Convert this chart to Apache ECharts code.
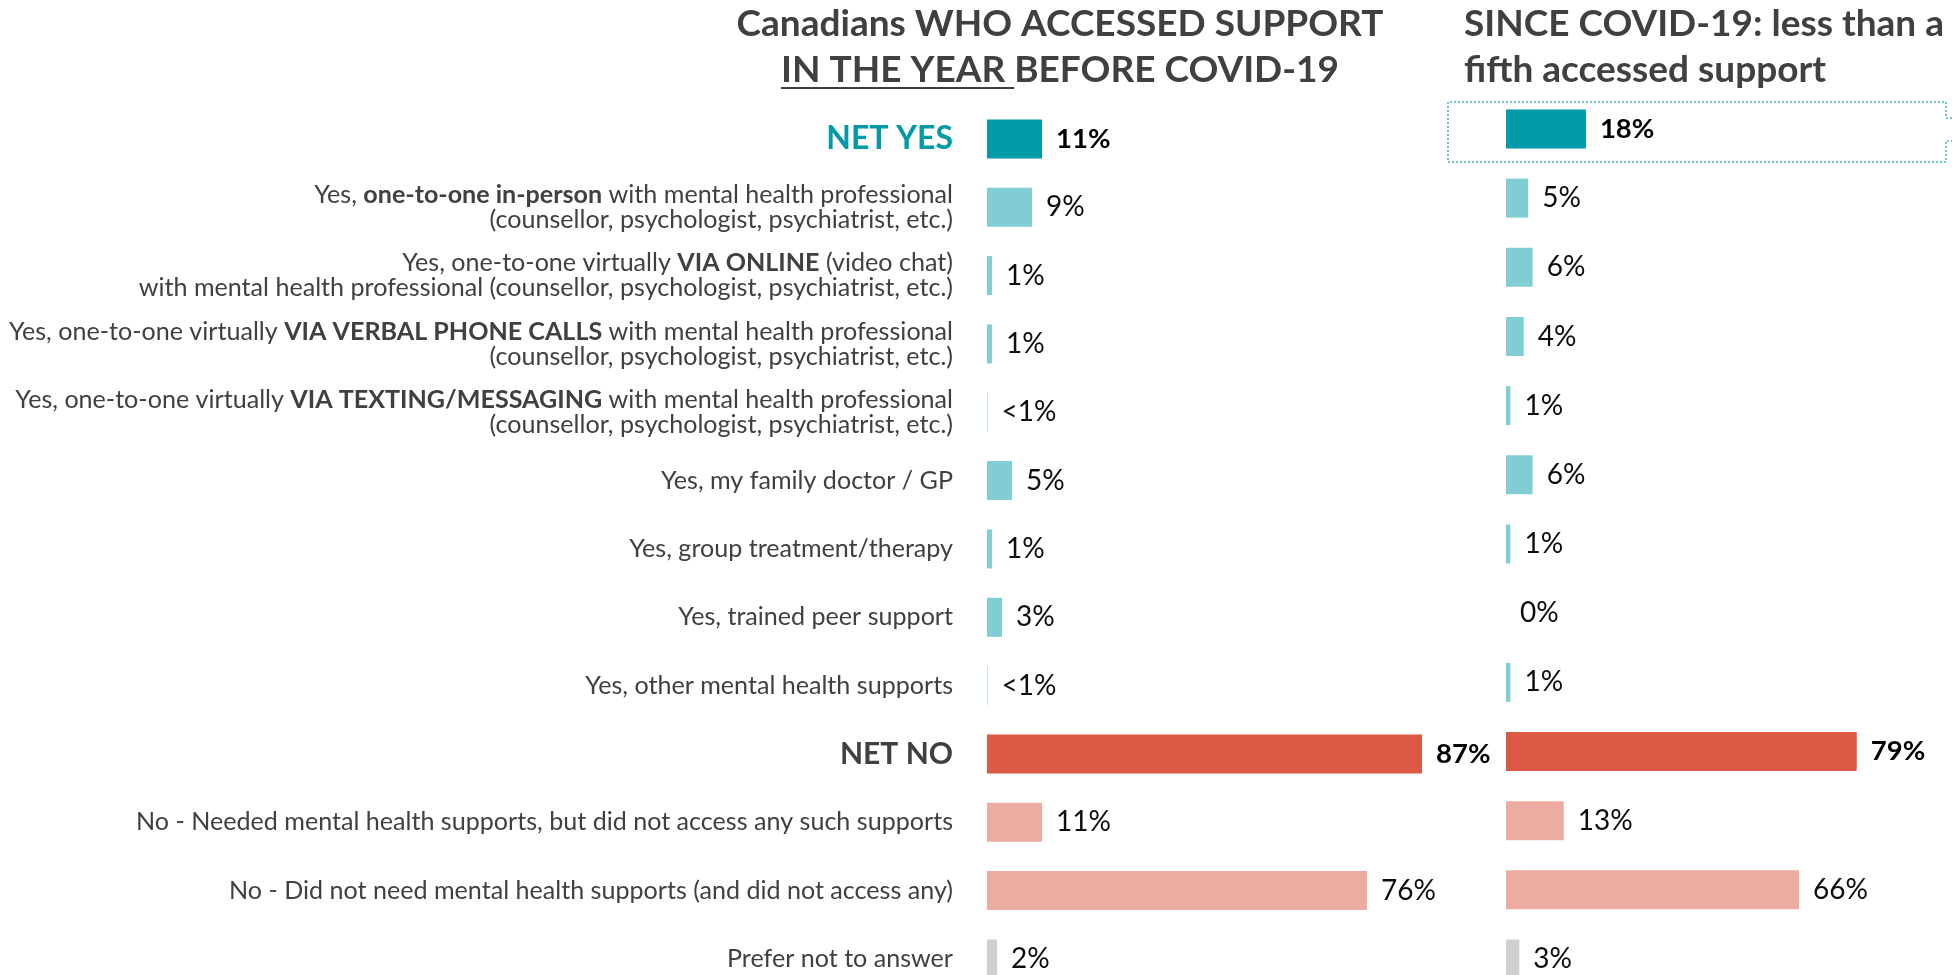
<!DOCTYPE html>
<html>
<head>
<meta charset="utf-8">
<script src="https://cdn.jsdelivr.net/npm/echarts@6/dist/echarts.min.js"></script>
<style>
  html, body { margin: 0; padding: 0; background: #fff; overflow: hidden; }
  #chart { width: 1952px; height: 1010px; }
</style>
</head>
<body>
<div id="chart"></div>
<script>
// Response rows, top to bottom
const categories = [
  'NET YES',
  'Yes, one-to-one in-person with mental health professional\n(counsellor, psychologist, psychiatrist, etc.)',
  'Yes, one-to-one virtually VIA ONLINE (video chat)\nwith mental health professional (counsellor, psychologist, psychiatrist, etc.)',
  'Yes, one-to-one virtually VIA VERBAL PHONE CALLS with mental health professional\n(counsellor, psychologist, psychiatrist, etc.)',
  'Yes, one-to-one virtually VIA TEXTING/MESSAGING with mental health professional\n(counsellor, psychologist, psychiatrist, etc.)',
  'Yes, my family doctor / GP',
  'Yes, group treatment/therapy',
  'Yes, trained peer support',
  'Yes, other mental health supports',
  'NET NO',
  'No - Needed mental health supports, but did not access any such supports',
  'No - Did not need mental health supports (and did not access any)',
  'Prefer not to answer'
];
// Phrases set in bold inside the row labels
const boldPhrases = ['one-to-one in-person', 'VIA ONLINE', 'VIA VERBAL PHONE CALLS', 'VIA TEXTING/MESSAGING'];
// Row group used to pick the bar colour
const rowGroups = ['netYes', 'yes', 'yes', 'yes', 'yes', 'yes', 'yes', 'yes', 'yes', 'netNo', 'no', 'no', 'prefer'];

// Percent of Canadians, year before COVID-19 (values under 1% shown as "<1%")
const beforeCovid = [11, 9, 1, 1, 0.1, 5, 1, 3, 0.1, 87, 11, 76, 2];
// Percent of Canadians, since COVID-19
const sinceCovid = [18, 5, 6, 4, 1, 6, 1, 0, 1, 79, 13, 66, 3];

const titleBefore = ['Canadians WHO ACCESSED SUPPORT', 'IN THE YEAR ', 'BEFORE COVID-19'];
const titleSince = ['SINCE COVID-19: less than a', 'fifth accessed support'];

const groupColors = {
  netYes: '#009ba8',
  yes: '#80cdd3',
  netNo: '#db5945',
  no: '#ecaca2',
  prefer: '#d0cfcf'
};

const FONT = 'Lato, "Noto Sans", sans-serif';
const TEXT = '#404040';
const LABEL_SIZE = 25.1;

function escapeRich(s) {
  return s.replace(/[{}|]/g, '');
}

function labelMarkup(label, idx) {
  if (rowGroups[idx] === 'netYes') return '{ny|' + label + '}';
  if (rowGroups[idx] === 'netNo') return '{nn|' + label + '}';
  return label.split('\n').map(function (line) {
    let parts = [{ t: line, b: false }];
    boldPhrases.forEach(function (ph) {
      const next = [];
      parts.forEach(function (p) {
        if (p.b || p.t.indexOf(ph) < 0) { next.push(p); return; }
        const k = p.t.indexOf(ph);
        if (k > 0) next.push({ t: p.t.slice(0, k), b: false });
        next.push({ t: ph, b: true });
        const rest = p.t.slice(k + ph.length);
        if (rest) next.push({ t: rest, b: false });
      });
      parts = next;
    });
    return parts.map(function (p) {
      return (p.b ? '{b|' : '{r|') + escapeRich(p.t) + '}';
    }).join('');
  }).join('\n');
}

function valueText(v) {
  if (v > 0 && v < 1) return '<1%';
  return v + '%';
}

function isNet(i) {
  return rowGroups[i] === 'netYes' || rowGroups[i] === 'netNo';
}

function barSeries(data, axisIndex) {
  return {
    type: 'bar',
    xAxisIndex: axisIndex,
    yAxisIndex: axisIndex,
    barWidth: 39,
    data: data,
    silent: true,
    itemStyle: {
      color: function (p) { return groupColors[rowGroups[p.dataIndex]]; }
    },
    label: {
      show: true,
      position: 'right',
      distance: 14,
      fontFamily: FONT,
      fontSize: 28,
      color: '#0d0d0d',
      formatter: function (p) {
        const t = valueText(p.value);
        return isNet(p.dataIndex) ? '{bold|' + t + '}' : t;
      },
      rich: {
        bold: { fontFamily: FONT, fontSize: 27.5, fontWeight: 'bold', color: '#000' }
      }
    }
  };
}

const chart = echarts.init(document.getElementById('chart'), null, { renderer: 'canvas' });

// Measure the underlined part of the left heading
const TITLE_SIZE = 37;
const ctx = document.createElement('canvas').getContext('2d');
ctx.font = 'bold ' + TITLE_SIZE + 'px ' + FONT;
const wUnder = ctx.measureText(titleBefore[1]).width;
const wRest = ctx.measureText(titleBefore[2]).width;
const titleCenterX = 1060;
const line2Left = titleCenterX - (wUnder + wRest) / 2;

const titleStyle = { fontFamily: FONT, fontSize: TITLE_SIZE, fontWeight: 'bold', fill: TEXT };

chart.setOption({
  animation: false,
  grid: [
    { left: 987, width: 500, top: 104.8, height: 888.3, outerBoundsMode: 'none', containLabel: false },
    { left: 1506, width: 444, top: 94.4, height: 899.2, outerBoundsMode: 'none', containLabel: false }
  ],
  xAxis: [
    { type: 'value', gridIndex: 0, min: 0, max: 100, show: false },
    { type: 'value', gridIndex: 1, min: 0, max: 100, show: false }
  ],
  yAxis: [
    {
      type: 'category', gridIndex: 0, inverse: true, data: categories,
      axisLine: { show: false }, axisTick: { show: false }, splitLine: { show: false },
      axisLabel: {
        margin: 34,
        fontFamily: FONT,
        fontSize: LABEL_SIZE,
        lineHeight: 25,
        color: TEXT,
        align: 'right',
        formatter: function (v, i) { return labelMarkup(v, i); },
        rich: {
          r: { fontFamily: FONT, fontSize: LABEL_SIZE, lineHeight: 25, color: TEXT, align: 'right' },
          b: { fontFamily: FONT, fontSize: LABEL_SIZE, lineHeight: 25, color: TEXT, fontWeight: 'bold', align: 'right' },
          ny: { fontFamily: FONT, fontSize: 32, fontWeight: 'bold', color: '#0099a6', align: 'right' },
          nn: { fontFamily: FONT, fontSize: 30, fontWeight: 'bold', color: TEXT, align: 'right' }
        }
      }
    },
    {
      type: 'category', gridIndex: 1, inverse: true, data: categories,
      axisLine: { show: false }, axisTick: { show: false }, splitLine: { show: false },
      axisLabel: { show: false }
    }
  ],
  series: [
    barSeries(beforeCovid, 0),
    barSeries(sinceCovid, 1)
  ],
  graphic: [
    {
      type: 'text', left: titleCenterX - ctx.measureText(titleBefore[0]).width / 2, top: 6,
      style: Object.assign({ text: titleBefore[0] }, titleStyle)
    },
    {
      type: 'text', left: line2Left, top: 52,
      style: Object.assign({ text: titleBefore[1] + titleBefore[2] }, titleStyle)
    },
    {
      type: 'line',
      shape: { x1: line2Left, y1: 88, x2: line2Left + wUnder, y2: 88 },
      style: { stroke: TEXT, lineWidth: 2 }
    },
    {
      type: 'text', left: 1464, top: 6,
      style: Object.assign({ text: titleSince[0] }, titleStyle)
    },
    {
      type: 'text', left: 1464, top: 52,
      style: Object.assign({ text: titleSince[1] }, titleStyle)
    },
    {
      // dotted callout frame round the since-COVID NET YES row
      type: 'polyline',
      shape: { points: [[1952, 118], [1946, 118], [1946, 102], [1448, 102], [1448, 162], [1946, 162], [1946, 141], [1952, 141]] },
      style: { stroke: '#3fb3bf', lineWidth: 1.5, lineDash: [2, 2], fill: null }
    }
  ]
});
</script>
</body>
</html>
